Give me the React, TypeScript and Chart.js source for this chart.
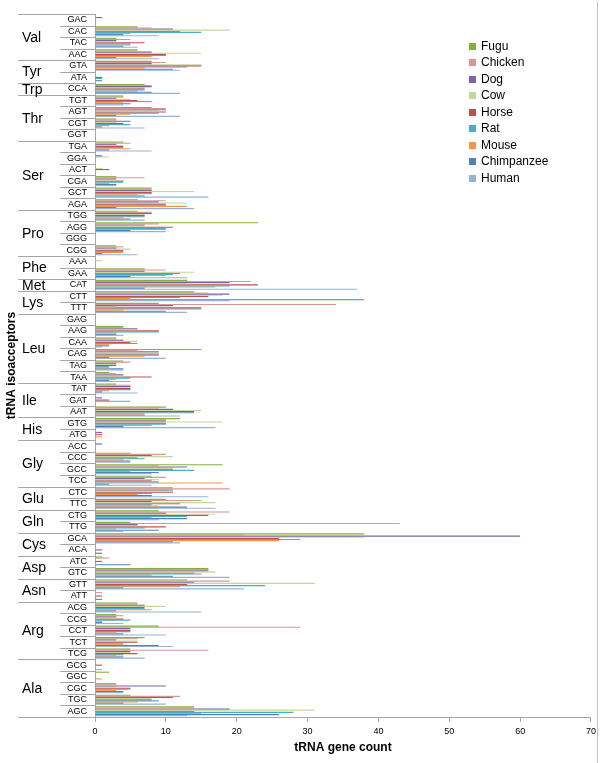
import React, { useEffect, useRef } from 'react';
import { Chart, registerables } from 'chart.js';
Chart.register(...registerables);

const anticodons = ['GAC','CAC','TAC','AAC','GTA','ATA','CCA','TGT','AGT','CGT','GGT','TGA','GGA','ACT','CGA','GCT','AGA','TGG','AGG','GGG','CGG','AAA','GAA','CAT','CTT','TTT','GAG','AAG','CAA','CAG','TAG','TAA','TAT','GAT','AAT','GTG','ATG','ACC','CCC','GCC','TCC','CTC','TTC','CTG','TTG','GCA','ACA','ATC','GTC','GTT','ATT','ACG','CCG','CCT','TCT','TCG','GCG','GGC','CGC','TGC','AGC'];
const aminoAcids = ['Val','Tyr','Trp','Thr','Ser','Pro','Phe','Met','Lys','Leu','Ile','His','Gly','Glu','Gln','Cys','Asp','Asn','Arg','Ala'];
const groupSizes = [4,2,1,4,6,4,2,1,2,6,3,2,4,2,2,2,2,2,5,5];

const seriesNames = ['Fugu','Chicken','Dog','Cow','Horse','Rat','Mouse','Chimpanzee','Human'];
const seriesColors = ['#86B03C','#D99694','#7F64A2','#C3D69B','#C0504D','#4BACC6','#F79646','#4F81BD','#95B3D7'];

// values per anticodon, in the order of `anticodons`
const fugu =       [0,6,3,6,8,0,7,4,8,3,0,4,0,0,3,8,6,6,23,0,3,0,7,13,14,9,0,4,3,15,4,2,3,0,10,12,0,0,5,18,8,11,10,9,5,38,0,1,16,13,0,6,3,9,7,5,0,2,3,5,14];
const chicken =    [0,8,5,6,10,0,8,4,10,3,0,5,0,0,7,8,10,8,9,0,4,0,10,22,16,34,0,4,3,6,5,3,5,0,9,10,0,0,10,9,10,19,15,19,43,21,0,2,16,19,1,6,4,29,6,16,0,0,3,12,14];
const dog =        [1,11,3,8,8,0,8,3,10,5,0,3,1,0,3,8,9,8,7,0,3,0,7,19,19,11,0,6,4,9,3,4,5,1,11,10,1,1,8,13,7,11,8,10,6,60,0,0,16,14,0,7,3,5,3,5,0,0,10,11,19];
const cow =        [0,19,3,15,15,0,7,5,9,3,0,4,2,1,3,14,13,7,7,0,5,1,14,13,18,3,0,6,6,9,3,4,5,0,15,18,0,0,11,11,9,11,17,17,6,38,0,0,17,31,0,10,3,5,6,5,0,0,3,8,31];
const horse =      [0,12,7,10,15,1,7,6,10,4,0,4,0,2,4,8,10,7,11,0,4,0,12,23,16,15,0,9,5,9,3,8,5,2,14,10,1,0,6,11,8,11,12,16,10,26,1,1,14,13,1,7,4,5,6,6,1,0,5,8,14];
const rat =        [0,15,5,10,13,1,7,8,9,5,0,4,0,0,4,8,10,7,10,0,4,0,11,19,12,15,0,9,6,9,2,5,5,5,14,10,0,0,7,14,9,8,8,13,7,29,0,0,15,24,0,7,5,5,4,4,0,0,5,9,28];
const mouse =      [0,5,5,8,7,0,6,4,5,2,0,5,0,0,2,6,13,4,10,0,4,0,10,17,5,4,0,3,2,7,2,3,2,0,7,8,1,0,4,5,18,6,9,8,3,26,0,0,8,12,0,8,1,3,4,3,0,1,3,6,15];
const chimpanzee = [0,4,4,3,11,1,8,5,3,1,0,2,0,0,3,7,3,5,5,0,1,0,5,7,38,10,0,3,2,2,4,2,1,0,7,4,0,0,5,9,2,8,13,13,9,11,1,5,11,4,1,3,1,4,9,4,0,0,4,4,26];
const human =      [0,9,6,9,12,0,12,4,12,7,0,8,0,0,3,16,14,7,10,0,6,0,13,37,19,13,0,4,1,10,4,5,6,0,12,17,0,0,5,8,8,16,17,9,4,12,0,0,19,21,0,15,4,10,11,7,1,0,4,10,13];

const seriesValues = [fugu, chicken, dog, cow, horse, rat, mouse, chimpanzee, human];

const xTicks = { min: 0, max: 70, step: 10 };

const FONT = '"Liberation Sans", Arial, sans-serif';

const leftPlugin = {
  id: 'leftLabels',
  afterDraw(chart: any) {
    const ctx = chart.ctx;
    const y = chart.scales.y;
    const area = chart.chartArea;
    const n = anticodons.length;
    const half = (y.getPixelForValue(1) - y.getPixelForValue(0)) / 2;
    ctx.save();
    ctx.strokeStyle = '#a6a6a6';
    ctx.lineWidth = 1;
    const starts = new Set<number>();
    let idx = 0;
    groupSizes.forEach((s) => { starts.add(idx); idx += s; });
    starts.add(n);
    for (let i = 0; i <= n; i++) {
      const py = Math.round(i < n ? y.getPixelForValue(i) - half : y.getPixelForValue(n - 1) + half) + 0.5;
      const x0 = starts.has(i) ? 18 : 60;
      ctx.beginPath();
      ctx.moveTo(x0, py);
      ctx.lineTo(area.left, py);
      ctx.stroke();
    }
    // amino acid labels
    ctx.fillStyle = '#000';
    ctx.font = `14px ${FONT}`;
    ctx.textAlign = 'left';
    ctx.textBaseline = 'middle';
    idx = 0;
    groupSizes.forEach((s, g) => {
      const c = (y.getPixelForValue(idx) + y.getPixelForValue(idx + s - 1)) / 2;
      ctx.fillText(aminoAcids[g], 22, c + 1);
      idx += s;
    });
    // legend
    ctx.font = `12px ${FONT}`;
    seriesNames.forEach((name, i) => {
      const cy = 46 + i * 16.5;
      ctx.fillStyle = seriesColors[i];
      ctx.fillRect(469, Math.round(cy - 3.5), 7, 7);
      ctx.fillStyle = '#000';
      ctx.fillText(name, 481, cy + 0.5);
    });
    // outer right border
    ctx.strokeStyle = '#bfbfbf';
    ctx.beginPath();
    ctx.moveTo(597.5, 2);
    ctx.lineTo(597.5, 763);
    ctx.stroke();
    ctx.restore();
  },
};

export default function App() {
  const ref = useRef<HTMLCanvasElement>(null);
  useEffect(() => {
    document.body.style.margin = '0';
    Chart.defaults.font.family = FONT;
    const chart = new Chart(ref.current!, {
      type: 'bar',
      data: {
        labels: anticodons,
        datasets: seriesNames.map((name, i) => ({
          label: name,
          data: seriesValues[i],
          backgroundColor: seriesColors[i],
          borderWidth: 0,
          categoryPercentage: 0.87,
          barPercentage: 1.0,
        })),
      },
      options: {
        indexAxis: 'y',
        responsive: false,
        animation: false,
        layout: { padding: { top: 14, right: 7, left: 0, bottom: 0 } },
        plugins: { legend: { display: false }, tooltip: { enabled: false } },
        scales: {
          x: {
            min: xTicks.min,
            max: xTicks.max,
            ticks: { stepSize: xTicks.step, font: { size: 9, family: FONT }, color: '#000', padding: 4 },
            grid: { drawOnChartArea: false, tickLength: 5, color: '#a6a6a6' },
            border: { color: '#a6a6a6' },
            title: { display: true, text: 'tRNA gene count', color: '#000', font: { size: 12, weight: 'bold', family: FONT }, padding: { top: 4, bottom: 8 } },
            afterFit: (s: any) => { s.height = 46; },
          },
          y: {
            type: 'category',
            offset: true,
            grid: { display: false, drawTicks: false },
            border: { display: true, color: '#a6a6a6' },
            ticks: { autoSkip: false, font: { size: 9, family: FONT }, color: '#000', padding: 8 },
            title: { display: true, text: 'tRNA isoacceptors', color: '#000', font: { size: 12, weight: 'bold', family: FONT }, padding: { top: 4, bottom: 0 } },
            afterFit: (s: any) => { s.width = 95; },
          },
        },
      },
      plugins: [leftPlugin],
    } as any);
    return () => chart.destroy();
  }, []);
  return (
    <div>
      <canvas ref={ref} width={600} height={763} style={{ display: 'block' }} />
    </div>
  );
}
